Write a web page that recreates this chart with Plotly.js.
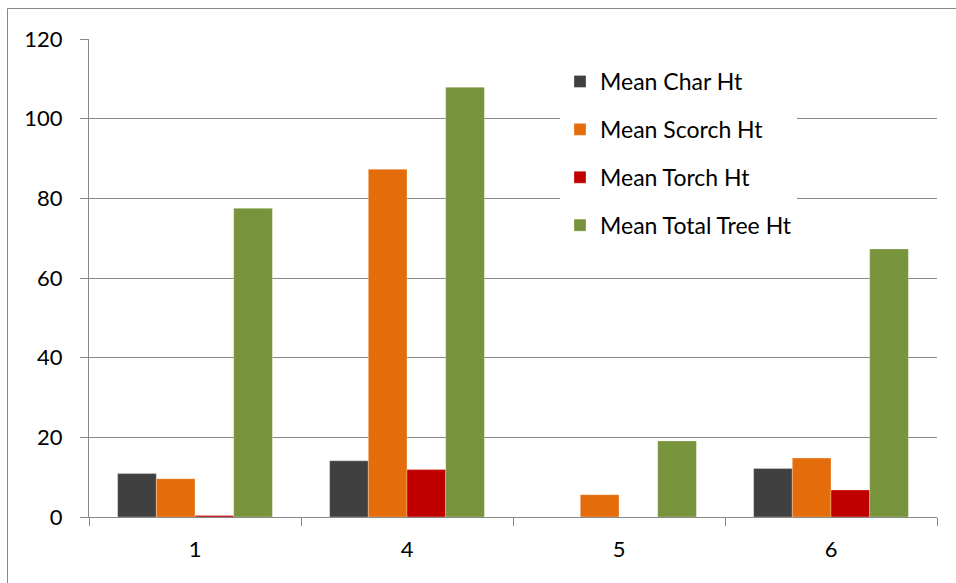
<!DOCTYPE html>
<html>
<head>
<meta charset="utf-8">
<script src="https://cdn.plot.ly/plotly-3.0.1.min.js"></script>
<style>html,body{margin:0;padding:0;background:#fff}#chart{width:956px;height:583px}</style>
</head>
<body>
<div id="chart"></div>
<script>
const categories = ['1', '4', '5', '6'];
const meanChar = [10.9, 14.1, null, 12.2];
const meanScorch = [9.6, 87.3, 5.6, 14.8];
const meanTorch = [0.4, 11.9, null, 6.8];
const meanTotalTree = [77.5, 107.9, 19.1, 67.3];
const seriesNames = ['Mean Char Ht', 'Mean Scorch Ht', 'Mean Torch Ht', 'Mean Total Tree Ht'];
const seriesColors = ['#404040', '#E46C0A', '#C00000', '#77933C'];
const yTicks = [0, 20, 40, 60, 80, 100, 120];

const values = [meanChar, meanScorch, meanTorch, meanTotalTree];
const traces = values.map((v, i) => ({
  type: 'bar',
  name: seriesNames[i],
  x: categories,
  y: v,
  legendgroup: 'g' + i,
  marker: {color: seriesColors[i], line: {color: 'rgba(255,255,255,0.6)', width: 0.5}}
}));

const W = 956, H = 583, L = 89, R = 937, T = 39, B = 517;
const px = x => (x - L) / (R - L);
const py = y => (B - y) / (B - T);

const FONT = 'Lato, "Open Sans", sans-serif';

const layout = {
  width: W, height: H,
  margin: {l: L, r: W - R, t: T, b: H - B, pad: 0},
  paper_bgcolor: '#fff', plot_bgcolor: '#fff',
  font: {family: FONT, size: 23, color: '#000'},
  barmode: 'group',
  bargap: 0.27,
  bargroupgap: 0,
  showlegend: true,
  legend: {
    x: px(560), y: py(60), xanchor: 'left', yanchor: 'top',
    bgcolor: '#fff', borderwidth: 0,
    traceorder: 'grouped', tracegroupgap: 15,
    font: {family: FONT, size: 23, color: '#000'},
    itemclick: false
  },
  xaxis: {
    type: 'category',
    showgrid: false,
    showline: true, linecolor: '#888', linewidth: 1,
    ticks: 'outside', ticklen: 8, tickcolor: '#888', tickwidth: 1,
    tickson: 'boundaries',
    ticklabelstandoff: 13,
    tickfont: {family: FONT, size: 22, color: '#000'},
    fixedrange: true
  },
  yaxis: {
    range: [0, 120],
    tickvals: yTicks,
    ticktext: yTicks.map(String),
    showgrid: true, gridcolor: '#888', gridwidth: 1,
    showline: true, linecolor: '#888', linewidth: 1,
    ticks: 'outside', ticklen: 8, tickcolor: '#888', tickwidth: 1,
    ticklabelstandoff: 13,
    zeroline: false,
    tickfont: {family: FONT, size: 22, color: '#000'},
    fixedrange: true
  },
  shapes: [{
    type: 'rect', xref: 'paper', yref: 'paper',
    x0: px(7.5), x1: px(965), y0: py(595), y1: py(8.5),
    line: {color: '#888', width: 1}, fillcolor: 'rgba(0,0,0,0)', layer: 'below'
  }]
};

Plotly.newPlot('chart', traces, layout, {displayModeBar: false, staticPlot: true});
</script>
</body>
</html>
